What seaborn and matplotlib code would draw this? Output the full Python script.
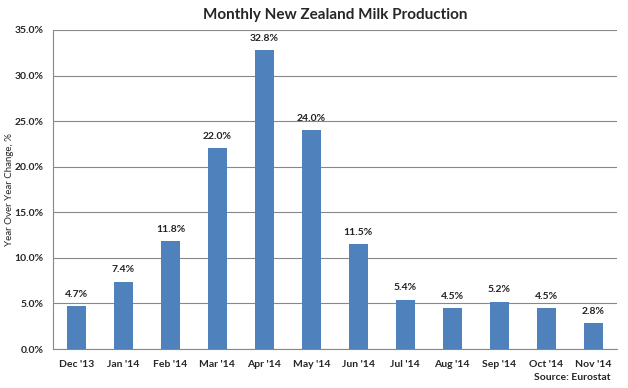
import matplotlib
matplotlib.use("Agg")
import matplotlib.pyplot as plt
import seaborn as sns
import numpy as np
import pandas as pd

# chart data
months = ["Dec '13", "Jan '14", "Feb '14", "Mar '14", "Apr '14", "May '14",
          "Jun '14", "Jul '14", "Aug '14", "Sep '14", "Oct '14", "Nov '14"]
change = [4.7, 7.4, 11.8, 22.0, 32.8, 24.0, 11.5, 5.4, 4.5, 5.2, 4.5, 2.8]

df = pd.DataFrame({"Month": months, "Change": change})

sns.set_style("white")
plt.rcParams["font.family"] = ["Lato", "DejaVu Sans"]

fig = plt.figure(figsize=(6.28, 3.88), dpi=100)
ax = fig.add_axes([0.0844, 0.1005, 0.8976, 0.8222])

sns.barplot(data=df, x="Month", y="Change", color="#4F81BD", width=0.41,
            saturation=1, linewidth=0, edgecolor="none", ax=ax, zorder=3)

for i, v in enumerate(change):
    ax.text(i, v + 0.8, f"{v:.1f}%", ha="center", va="bottom",
            fontsize=7.5, fontweight="bold", color="#222222")

ax.set_ylim(0, 35)
ax.set_xlim(-0.5, len(months) - 0.5)
ax.set_yticks(np.arange(0, 36, 5))
ax.set_yticklabels([f"{t:.1f}%" for t in np.arange(0, 36, 5)],
                   fontsize=7.5, fontweight="bold")
ax.yaxis.grid(True, color="#888888", linewidth=0.8, zorder=0)
ax.set_axisbelow(True)

# x ticks between categories
ax.set_xticks(np.arange(len(months)))
ax.set_xticklabels(months, fontsize=7.5, fontweight="bold")
ax.set_xticks(np.arange(-0.5, len(months), 1), minor=True)
ax.tick_params(axis="x", which="major", length=0, pad=8)
ax.tick_params(axis="x", which="minor", length=5, color="#888888", direction="out")
ax.tick_params(axis="y", length=4, color="#888888", direction="out", pad=3)

for s in ["top", "right"]:
    ax.spines[s].set_visible(False)
for s in ["left", "bottom"]:
    ax.spines[s].set_color("#888888")
    ax.spines[s].set_linewidth(0.8)

ax.set_xlabel("")
ax.set_ylabel("Year Over Year Change, %", fontsize=7)
ax.yaxis.set_label_coords(-0.07, 0.5)
ax.set_title("Monthly New Zealand Milk Production", fontsize=11,
             fontweight="bold", pad=8)

fig.text(0.972, 0.015, "Source: Eurostat", ha="right", va="bottom",
         fontsize=7.5, fontweight="bold")

fig.savefig("out.png", dpi=100)
